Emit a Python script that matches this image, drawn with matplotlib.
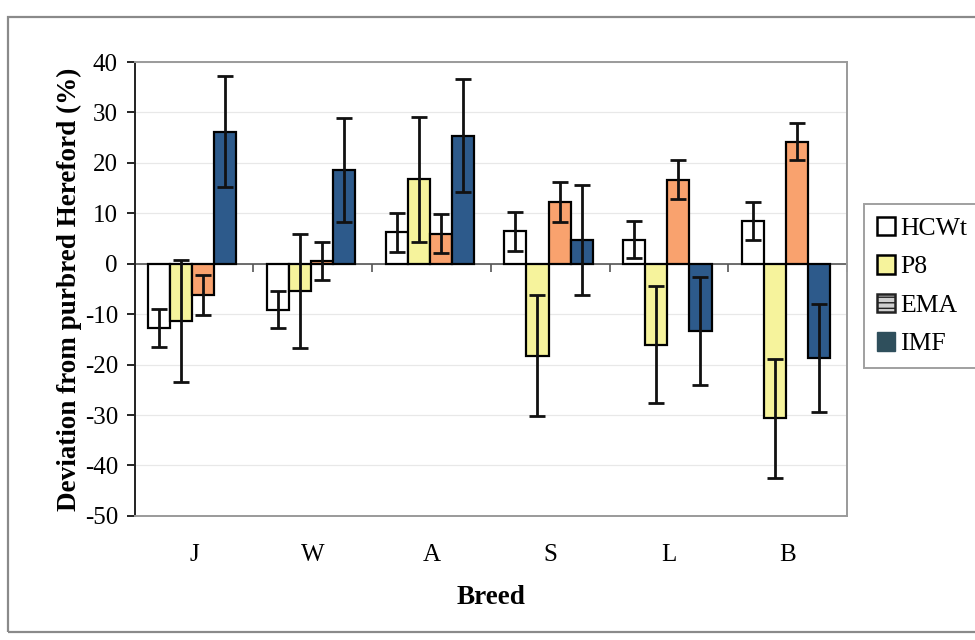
import numpy as np
import matplotlib
matplotlib.use("Agg")
import matplotlib.pyplot as plt
from matplotlib.patches import Patch, Rectangle

plt.rcParams['font.family'] = ['Liberation Serif', 'DejaVu Serif']
plt.rcParams['axes.unicode_minus'] = False

# breed deviations from purebred Hereford (%) with error bars
breeds = ['J', 'W', 'A', 'S', 'L', 'B']
traits = ['HCWt', 'P8', 'EMA', 'IMF']

hcwt = [-12.7, -9.1, 6.2, 6.4, 4.8, 8.5]
hcwt_err = [3.8, 3.6, 3.8, 3.8, 3.6, 3.7]
p8 = [-11.3, -5.4, 16.8, -18.2, -16.1, -30.6]
p8_err = [12.1, 11.4, 12.4, 12.0, 11.6, 11.8]
ema = [-6.2, 0.6, 6.0, 12.3, 16.7, 24.2]
ema_err = [4.0, 3.8, 3.9, 4.0, 3.9, 3.7]
imf = [26.2, 18.6, 25.4, 4.8, -13.3, -18.7]
imf_err = [11.0, 10.4, 11.2, 10.9, 10.7, 10.8]

colors = ['white', '#f6f39c', '#f9a26e', '#2d5a8b']

fig = plt.figure(figsize=(9.75, 6.4), dpi=100)
ax = fig.add_axes([0.138, 0.194, 0.731, 0.709])

x = np.arange(len(breeds))
w = 0.186
series = [(hcwt, hcwt_err), (p8, p8_err), (ema, ema_err), (imf, imf_err)]
for i, (vals, errs) in enumerate(series):
    pos = x + (i - 1.5) * w - 0.015
    ax.bar(pos, vals, w, color=colors[i], edgecolor='black', linewidth=1.6, zorder=3)
    ax.errorbar(pos, vals, yerr=errs, fmt='none', ecolor='#111111',
                elinewidth=2, capsize=6, capthick=2, zorder=4)

# category axis sits at zero with tick marks between breeds
ax.axhline(0, color='#555555', lw=1.2, zorder=2)
bounds = np.arange(len(breeds) + 1) - 0.5
ax.plot(bounds, np.zeros_like(bounds), ls='', marker=3, ms=6,
        mew=1.2, color='#555555', zorder=2)

ax.set_xlim(-0.5, len(breeds) - 0.5)
ax.set_ylim(-50, 40)
ax.set_yticks(np.arange(-50, 41, 10))
ax.set_xticks(x)
ax.set_xticklabels(breeds)
ax.tick_params(axis='x', length=0, pad=20, labelsize=18)
ax.tick_params(axis='y', length=6, width=1.2, direction='out', pad=6,
               labelsize=18)
ax.yaxis.grid(True, color='#e8e8e8', lw=0.9, zorder=0)

for s in ['top', 'right', 'bottom']:
    ax.spines[s].set_color('#9a9a9a')
    ax.spines[s].set_linewidth(1.4)
ax.spines['left'].set_color('#222222')
ax.spines['left'].set_linewidth(1.4)

ax.set_ylabel('Deviation from purbred Hereford (%)', fontsize=19.5,
              fontweight='bold', labelpad=2)
ax.set_xlabel('Breed', fontsize=19.5, fontweight='bold', labelpad=14)

handles = [
    Patch(facecolor='white', edgecolor='black', lw=1.8),
    Patch(facecolor='#f6f39c', edgecolor='black', lw=1.8),
    Patch(facecolor='#cfcfcf', edgecolor='#222222', hatch='---', lw=1.8),
    Patch(facecolor='#2f4f5c', edgecolor='#2f4f5c'),
]
leg = fig.legend(handles, traits, loc='center left',
                 bbox_to_anchor=(0.886, 0.553), borderaxespad=0,
                 fontsize=18.5, frameon=True, fancybox=False,
                 handlelength=0.72, handleheight=0.72, handletextpad=0.2,
                 labelspacing=0.6, borderpad=0.5)
leg.get_frame().set_edgecolor('#888888')
leg.get_frame().set_linewidth(1.4)

# outer chart border
fig.patches.append(Rectangle((0.008, 0.012), 1.2, 0.962, transform=fig.transFigure,
                             fill=False, edgecolor='#8a8a8a', lw=1.6))

fig.savefig('out.png', dpi=100)
